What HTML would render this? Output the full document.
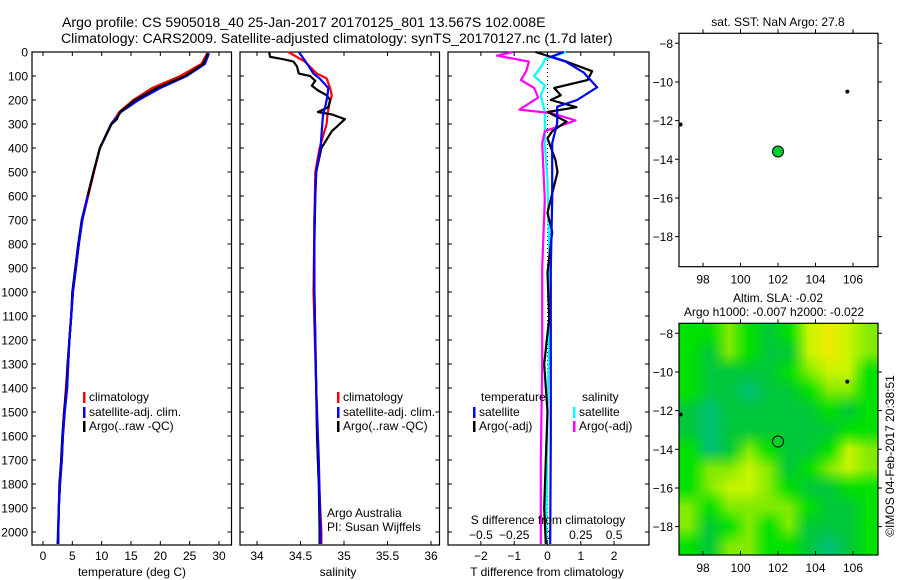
<!DOCTYPE html>
<html><head><meta charset="utf-8"><style>
body{margin:0;background:#fff;width:900px;height:580px;overflow:hidden}
svg{display:block;font-family:"Liberation Sans",sans-serif}
text{font-size:12px;fill:#000}
</style></head><body>
<div style="position:relative;width:900px;height:580px">
<svg id="fig" width="900" height="580">
<text x="62" y="27" style="font-size:14.1px">Argo profile: CS 5905018_40 25-Jan-2017 20170125_801 13.567S 102.008E</text>
<text x="61" y="43" style="font-size:14.1px">Climatology: CARS2009. Satellite-adjusted climatology: synTS_20170127.nc (1.7d later)</text>
</svg>
<canvas id="hm" width="10" height="12" style="position:absolute;left:679px;top:323px;width:199px;height:232px"></canvas>
</div>
<script>
// ---- data ----
const tempDepthArgo=[5,50,100,150,200,250,280,300,400,500,600,700,800,900,1000,1100,1200,1300,1400,1500,1600,1700,1800,1900,2000,2050];
const tempArgo=[28.1,27.3,24.2,19.4,15.7,13.1,12.6,11.7,9.7,8.6,7.6,6.6,6.0,5.5,5.0,4.8,4.5,4.2,4.0,3.6,3.3,3.1,2.8,2.7,2.55,2.5];
const tempClim=[28.0,27.0,23.4,18.6,15.4,13.0,12.2,11.6,9.7,8.7,7.7,6.7,6.1,5.6,5.1,4.8,4.5,4.2,3.9,3.6,3.3,3.1,2.9,2.7,2.6,2.5];
const tempSat=[28.3,27.6,24.5,20.0,16.3,13.3,12.3,11.6,9.7,8.6,7.6,6.7,6.1,5.6,5.1,4.8,4.5,4.3,4.1,3.7,3.4,3.2,2.9,2.7,2.6,2.6];
const salDepthArgo=[0,20,30,40,60,90,100,120,140,160,180,200,230,250,260,280,300,330,400,450,500,600,800,1000,1400,1600,1800,2000,2050];
const salArgo=[34.14,34.15,34.30,34.42,34.46,34.48,34.61,34.67,34.63,34.70,34.80,34.84,34.82,34.70,34.86,35.01,34.95,34.86,34.74,34.71,34.68,34.67,34.66,34.66,34.68,34.69,34.71,34.72,34.72];
const salDepthClim=[0,40,90,110,150,180,220,260,300,400,500,700,1000,1400,1700,2000,2050];
const salClim=[34.36,34.55,34.69,34.80,34.84,34.86,34.83,34.81,34.80,34.72,34.67,34.66,34.65,34.68,34.70,34.74,34.74];
const salSat=[34.48,34.56,34.65,34.72,34.82,34.81,34.79,34.76,34.75,34.73,34.68,34.66,34.66,34.68,34.71,34.73,34.73];
const dTDepthSat=[0,20,40,85,147,200,228,296,380,616,900,1200,1600,2050];
const dTSat=[0.49,0.1,0.54,1.08,1.49,0.89,0.29,0.29,0.14,0.14,0.1,0.1,0.1,0.08];
const dTDepthArgo=[0,15,40,80,117,150,180,200,230,250,290,330,360,450,500,670,750,920,1110,1300,1500,1700,1900,2050];
const dTArgo=[-0.36,-0.02,0.57,1.34,1.2,0.2,0.4,0.1,0.87,0.0,0.57,0.14,0.0,0.24,0.3,0.0,0.14,0.0,0.05,-0.1,0.0,-0.05,-0.1,-0.05];
const dSDepthArgo=[0,15,40,80,117,150,190,240,255,285,330,380,616,900,1300,1700,2050];
const dSArgo=[-0.26,-0.38,-0.14,-0.16,-0.2,-0.1,-0.07,-0.21,0.03,0.21,-0.02,-0.04,-0.02,-0.04,-0.04,-0.05,-0.05];
const dSDepthSat=[0,30,55,100,140,180,250,330,380,540,1000,1500,2050];
const dSSat=[0.14,-0.02,-0.04,-0.1,-0.02,-0.05,-0.02,-0.02,-0.02,0.0,0.02,0.0,-0.01];
const depthTicks=[0,100,200,300,400,500,600,700,800,900,1000,1100,1200,1300,1400,1500,1600,1700,1800,1900,2000];
const tempTicks=[0,5,10,15,20,25,30];
const salTicks=[34,34.5,35,35.5,36];
const salTickLabels=["34","34.5","35","35.5","36"];
const dTTicks=[-2,-1,0,1,2];
const dSTicks=[-0.5,-0.25,0,0.25,0.5];
const dSTickLabels=["\u22120.5","\u22120.25","0","0.25","0.5"];
const dTTickLabels=["\u22122","\u22121","0","1","2"];
const lonTicks=[98,100,102,104,106];
const latTicks=[-8,-10,-12,-14,-16,-18];
const latTickLabels=["\u22128","\u221210","\u221212","\u221214","\u221216","\u221218"];
const argoPos=[102.0,-13.6];
const otherFloatLon=[105.7,96.8];
const otherFloatLat=[-10.5,-12.2];
const slaGrid=[
[2,2,3,2,1,2,4,5,4,3],
[2,1,3,2,1,1,4,5,4,3],
[2,1,1,1,1,2,3,4,4,2],
[2,1,1,0,1,1,2,3,3,2],
[1,0,1,1,1,1,1,2,1,2],
[1,0,1,1,1,1,1,1,2,2],
[2,0,1,3,2,1,1,2,4,3],
[2,3,3,4,3,1,2,3,4,3],
[2,3,4,4,3,2,1,1,2,2],
[3,2,3,3,3,3,2,1,1,2],
[3,1,2,3,2,3,1,1,1,2],
[2,1,3,3,2,2,1,0,1,2]];
const slaColors=["#00bf78","#00c83c","#00e100","#82eb00","#c8f500","#f0eb00"];

// ---- helpers ----
const NS="http://www.w3.org/2000/svg";
const svg=document.getElementById('fig');
function mk(tag,attrs){const e=document.createElementNS(NS,tag);for(const k in attrs)e.setAttribute(k,attrs[k]);svg.appendChild(e);return e;}
function txt(x,y,s,anchor){const e=mk('text',{x:x,y:y,'text-anchor':anchor||'start'});e.textContent=s;return e;}
const Y0=52,YS=0.24;
function yD(d){return Y0+d*YS;}
function lin(d0,d1,p0,p1){return v=>p0+(v-d0)*(p1-p0)/(d1-d0);}
const xT=lin(0,30,43,219);
const xS=lin(34,36,257,431);
const xDT=lin(0,1,547.5,580.8);
const xDS=lin(0,0.25,547.5,580.8);
const xLon=lin(98,106,703,853);
const yLatTop=lin(-8,-18,43.3,236.6);
const yLatBot=lin(-8,-18,333.3,526.6);

function frame(x0,x1,y0,y1,name){
  const r=mk('rect',{x:x0,y:y0,width:x1-x0,height:y1-y0,fill:'none',stroke:'#000','stroke-width':1.2});
  
  
}
function depthAxis(x0,x1,labels){
  depthTicks.forEach(d=>{
    const y=yD(d);
    const l=mk('path',{d:`M${x0},${y}h4M${x1},${y}h-4`,stroke:'#000'});
    
    
    if(labels){const t=txt(x0-4,y+4.5,String(d),'end');
      
      }
  });
}
function xTicks(vals,labs,sc,x0,x1,top,bot,labY,name){
  vals.forEach((v,i)=>{
    const x=sc(v);
    const l=mk('path',{d:`M${x},${bot}v-4M${x},${top}v4`,stroke:'#000'});
    
    
    if(labY){const t=txt(x,labY,labs[i],'middle');
      
      }
  });
}
function series(xs,ds,sc,color,name){
  const pts=xs.map((v,i)=>sc(v).toFixed(1)+','+yD(ds[i]).toFixed(1)).join(' ');
  const p=mk('polyline',{points:pts,fill:'none',stroke:color,'stroke-width':2.2,'stroke-linejoin':'round'});
  
  
}
function legend(x,y,color,label,name){
  const r=mk('rect',{x:x,y:y-9,width:2.5,height:11,fill:color});
  
  
  const t=txt(x+6,y,label);
  
  
}

// ---- panel 1: temperature ----
frame(32,231.5,52,545,'temperature-panel');
depthAxis(32,231.5,true);
xTicks(tempTicks,tempTicks.map(String),xT,32,231,52,545,560,'temperature-x');
series(tempClim,tempDepthArgo,xT,'#f00','temperature-climatology-line');
series(tempSat,tempDepthArgo,xT,'#00f','temperature-satellite-line');
series(tempArgo,tempDepthArgo,xT,'#000','temperature-argo-line');
series(tempSat.slice(10),tempDepthArgo.slice(10),xT,'#00f','temperature-satellite-deep-line');
legend(83,401,'#f00','climatology','temp-legend-climatology');
legend(83,416,'#00f','satellite-adj. clim.','temp-legend-satellite');
legend(83,430,'#000','Argo(..raw -QC)','temp-legend-argo');
const t1=txt(132,576,'temperature (deg C)','middle');



// ---- panel 2: salinity ----
frame(240,439.5,52,545,'salinity-panel');
depthAxis(240,439.5,false);
xTicks(salTicks,salTickLabels,xS,240,439,52,545,560,'salinity-x');
series(salClim,salDepthClim,xS,'#f00','salinity-climatology-line');
series(salArgo,salDepthArgo,xS,'#000','salinity-argo-line');
series(salSat,salDepthClim,xS,'#00f','salinity-satellite-line');
legend(337,401,'#f00','climatology','sal-legend-climatology');
legend(337,416,'#00f','satellite-adj. clim.','sal-legend-satellite');
legend(337,430,'#000','Argo(..raw -QC)','sal-legend-argo');
const t2=txt(327,517,'Argo Australia');
const t3=txt(327,531,'PI: Susan Wijffels');
const t4=txt(338,576,'salinity','middle');

// ---- panel 3: differences ----
frame(448,649,52,545,'difference-panel');
depthAxis(448,649,false);
const zl=mk('line',{x1:xDT(0),x2:xDT(0),y1:52,y2:545,stroke:'#000','stroke-dasharray':'1,3'});

xTicks(dTTicks,dTTickLabels,xDT,448,649,52,545,560,'t-diff-x');
dSTicks.forEach((v,i)=>{const t=txt(xDS(v),539,dSTickLabels[i],'middle');
  
  });
series(dSSat,dSDepthSat,xDS,'#0ff','s-diff-satellite-line');
series(dSArgo,dSDepthArgo,xDS,'#f0f','s-diff-argo-line');
series(dTArgo,dTDepthArgo,xDT,'#000','t-diff-argo-line');
series(dTSat,dTDepthSat,xDT,'#00f','t-diff-satellite-line');
const t5=txt(481,401,'temperature');
const t6=txt(582,401,'salinity');
legend(473,416,'#00f','satellite','legend-t-satellite');
legend(473,430,'#000','Argo(-adj)','legend-t-argo');
legend(573,416,'#0ff','satellite','legend-s-satellite');
legend(573,430,'#f0f','Argo(-adj)','legend-s-argo');
const t7=txt(548,524,'S difference from climatology','middle');
const t8=txt(547,576,'T difference from climatology','middle');

// ---- maps ----
function mapAxes(top,bot,ySc,name){
  frame(679,878,top,bot,name);
  lonTicks.forEach(v=>{const x=xLon(v);
    const l=mk('path',{d:`M${x},${bot}v-4M${x},${top}v-4`,stroke:'#000'});
    
    const t=txt(x,bot+17,String(v),'middle');
    });
  latTicks.forEach((v,i)=>{const y=ySc(v);
    const l=mk('path',{d:`M679,${y}h-4M878,${y}h4`,stroke:'#000'});
    
    const t=txt(673,y+4.5,latTickLabels[i],'end');
    });
  otherFloatLon.forEach((v,i)=>{
    const c=mk('circle',{cx:xLon(v),cy:ySc(otherFloatLat[i]),r:2,fill:'#000'});
    });
}
mapAxes(33.3,266.7,yLatTop,'sst-map');
const g=mk('circle',{cx:xLon(argoPos[0]),cy:yLatTop(argoPos[1]),r:5.5,fill:'#00cc33',stroke:'#000','stroke-width':1});

const t9=txt(778,26,'sat. SST: NaN Argo: 27.8','middle');

// heatmap canvas
const cv=document.getElementById('hm'),cx=cv.getContext('2d');
slaGrid.forEach((row,r)=>row.forEach((v,c)=>{cx.fillStyle=slaColors[v];cx.fillRect(c,r,1,1);}));
mapAxes(323.3,555,yLatBot,'sla-map');
const oc=mk('circle',{cx:xLon(argoPos[0]),cy:yLatBot(argoPos[1]),r:5.5,fill:'none',stroke:'#000','stroke-width':1});

const ta=txt(778,302,'Altim. SLA: -0.02','middle');
const tb=txt(774,316,'Argo h1000: -0.007 h2000: -0.022','middle');
const tc=txt(0,0,'\u00a9IMOS 04-Feb-2017 20:38:51','middle');
tc.setAttribute('transform','translate(894,456) rotate(-90)');

svg.style.position='absolute';svg.style.left='0';svg.style.top='0';svg.style.zIndex='2';
</script>
</body></html>
